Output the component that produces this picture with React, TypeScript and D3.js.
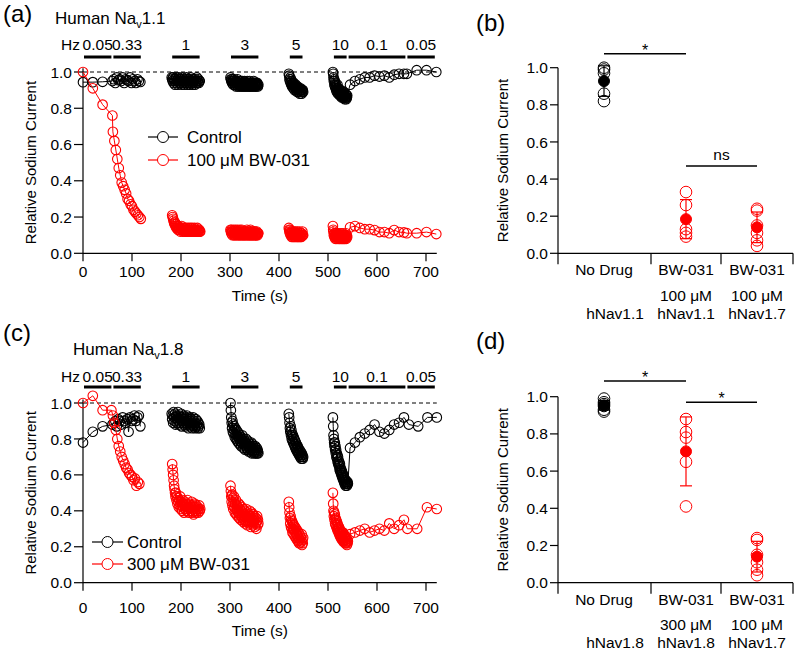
import React from "react";
import * as d3 from "d3";

const FONT = "'Liberation Sans', Arial, Helvetica, sans-serif";

// ---------- protocol ----------
const freqLabels = ["0.05", "0.33", "1", "3", "5", "10", "0.1", "0.05"];
const freqStart = [0, 60, 180, 300, 420, 510, 540, 660];
const freqEnd = [60, 120, 240, 360, 450, 540, 660, 720];

const timeTicks = [0, 100, 200, 300, 400, 500, 600, 700];
const currentTicks = [0, 0.2, 0.4, 0.6, 0.8, 1.0];

type Seg = { t0: number; dt: number; v: number[] };

// ---------- panel (a): hNav1.1 ----------
const nav11Control: Seg[] = [
  { t0: 0, dt: 20, v: [0.944, 0.944, 0.946] },
  { t0: 60, dt: 3, v: [0.95, 0.96, 0.94, 0.97, 0.955, 0.96, 0.95, 0.97, 0.94, 0.96, 0.955, 0.95, 0.97, 0.94, 0.96, 0.95, 0.94, 0.96, 0.95, 0.945] },
  { t0: 181, dt: 0.97, v: [
    0.97, 0.96, 0.95, 0.97, 0.94, 0.96, 0.95, 0.93, 0.96, 0.97,
    0.94, 0.95, 0.96, 0.93, 0.95, 0.97, 0.94, 0.96, 0.95, 0.94,
    0.96, 0.93, 0.95, 0.97, 0.94, 0.96, 0.95, 0.93, 0.94, 0.96,
    0.95, 0.97, 0.94, 0.93, 0.96, 0.95, 0.94, 0.96, 0.93, 0.95,
    0.97, 0.94, 0.95, 0.96, 0.93, 0.95, 0.94, 0.96, 0.95, 0.93,
    0.96, 0.94, 0.95, 0.97, 0.94, 0.95, 0.96, 0.94, 0.95, 0.95] },
  { t0: 301, dt: 0.8, v: [
    0.97, 0.96, 0.95, 0.96, 0.94, 0.95, 0.96, 0.93, 0.95, 0.94,
    0.96, 0.93, 0.95, 0.94, 0.92, 0.95, 0.93, 0.94, 0.96, 0.92,
    0.94, 0.93, 0.95, 0.92, 0.94, 0.93, 0.95, 0.92, 0.93, 0.94,
    0.92, 0.95, 0.93, 0.94, 0.92, 0.93, 0.95, 0.92, 0.94, 0.93,
    0.92, 0.94, 0.93, 0.95, 0.92, 0.93, 0.94, 0.92, 0.93, 0.95,
    0.92, 0.94, 0.93, 0.92, 0.94, 0.93, 0.92, 0.94, 0.93, 0.95,
    0.92, 0.93, 0.94, 0.92, 0.93, 0.94, 0.92, 0.93, 0.94, 0.93,
    0.92, 0.93] },
  { t0: 420, dt: 0.75, v: [
    0.99, 0.98, 0.96, 0.95, 0.97, 0.94, 0.96, 0.93, 0.95, 0.92,
    0.94, 0.93, 0.91, 0.94, 0.92, 0.93, 0.9, 0.92, 0.91, 0.93,
    0.9, 0.92, 0.91, 0.89, 0.92, 0.9, 0.91, 0.89, 0.91, 0.9,
    0.88, 0.9, 0.91, 0.89, 0.9, 0.88, 0.9, 0.89, 0.9, 0.89] },
  { t0: 510, dt: 0.62, v: [
    1.0, 0.99, 0.97, 0.95, 0.96, 0.93, 0.95, 0.92, 0.94, 0.91,
    0.93, 0.9, 0.92, 0.89, 0.91, 0.93, 0.9, 0.88, 0.91, 0.89,
    0.9, 0.88, 0.9, 0.87, 0.89, 0.88, 0.9, 0.87, 0.88, 0.86,
    0.89, 0.87, 0.88, 0.86, 0.87, 0.89, 0.86, 0.88, 0.87, 0.85,
    0.87, 0.86, 0.88, 0.86, 0.85, 0.87, 0.86, 0.87] },
  { t0: 545, dt: 10, v: [0.93, 0.95, 0.96, 0.97, 0.97, 0.98, 0.975, 0.98, 0.97, 0.985, 0.99, 0.99] },
  { t0: 661, dt: 20, v: [0.99, 1.01, 1.01, 1.0] },
];

const nav11Drug: Seg[] = [
  { t0: 0, dt: 20, v: [1.0, 0.91, 0.82, 0.76] },
  { t0: 61, dt: 3, v: [0.67, 0.62, 0.57, 0.52, 0.47, 0.43, 0.39, 0.37, 0.35, 0.33, 0.3, 0.29, 0.27, 0.26, 0.24, 0.23, 0.22, 0.21, 0.2, 0.19] },
  { t0: 182, dt: 0.97, v: [
    0.21, 0.2, 0.19, 0.18, 0.17, 0.16, 0.17, 0.15, 0.16, 0.14,
    0.15, 0.14, 0.13, 0.15, 0.14, 0.13, 0.14, 0.12, 0.14, 0.13,
    0.15, 0.13, 0.12, 0.14, 0.13, 0.12, 0.14, 0.13, 0.12, 0.13,
    0.14, 0.12, 0.13, 0.12, 0.14, 0.13, 0.12, 0.13, 0.14, 0.12,
    0.13, 0.12, 0.14, 0.13, 0.12, 0.13, 0.12, 0.14, 0.12, 0.13,
    0.12, 0.13, 0.12, 0.14, 0.12, 0.13, 0.12, 0.13, 0.12, 0.12] },
  { t0: 301, dt: 0.8, v: [
    0.13, 0.12, 0.11, 0.13, 0.12, 0.1, 0.12, 0.11, 0.13, 0.1,
    0.12, 0.11, 0.1, 0.13, 0.11, 0.12, 0.1, 0.11, 0.13, 0.12,
    0.1, 0.11, 0.12, 0.1, 0.13, 0.11, 0.1, 0.12, 0.11, 0.13,
    0.1, 0.12, 0.11, 0.1, 0.12, 0.11, 0.1, 0.12, 0.11, 0.1,
    0.12, 0.11, 0.13, 0.1, 0.11, 0.12, 0.1, 0.11, 0.12, 0.1,
    0.11, 0.13, 0.1, 0.12, 0.11, 0.1, 0.12, 0.11, 0.1, 0.11,
    0.12, 0.1, 0.11, 0.12, 0.1, 0.11, 0.1, 0.12, 0.11, 0.1,
    0.11, 0.11] },
  { t0: 420, dt: 0.75, v: [
    0.14, 0.13, 0.12, 0.11, 0.13, 0.1, 0.12, 0.11, 0.09, 0.12,
    0.1, 0.11, 0.09, 0.12, 0.1, 0.11, 0.09, 0.1, 0.12, 0.1,
    0.09, 0.11, 0.1, 0.12, 0.09, 0.1, 0.11, 0.09, 0.1, 0.12,
    0.1, 0.09, 0.11, 0.1, 0.09, 0.11, 0.1, 0.12, 0.1, 0.1] },
  { t0: 510, dt: 0.62, v: [
    0.15, 0.13, 0.12, 0.1, 0.11, 0.09, 0.11, 0.1, 0.08, 0.1,
    0.11, 0.09, 0.1, 0.08, 0.11, 0.09, 0.1, 0.08, 0.1, 0.09,
    0.11, 0.08, 0.1, 0.09, 0.08, 0.1, 0.09, 0.11, 0.08, 0.09,
    0.1, 0.08, 0.09, 0.11, 0.08, 0.1, 0.09, 0.08, 0.1, 0.09,
    0.08, 0.1, 0.09, 0.11, 0.08, 0.09, 0.1, 0.09] },
  { t0: 545, dt: 10, v: [0.143, 0.15, 0.14, 0.133, 0.133, 0.128, 0.117, 0.117, 0.111, 0.128, 0.117, 0.115] },
  { t0: 661, dt: 20, v: [0.111, 0.111, 0.117, 0.106] },
];

// ---------- panel (c): hNav1.8 ----------
const nav18Control: Seg[] = [
  { t0: 0, dt: 20, v: [0.78, 0.84, 0.87] },
  { t0: 60, dt: 3, v: [0.88, 0.89, 0.9, 0.87, 0.91, 0.9, 0.88, 0.92, 0.9, 0.89, 0.91, 0.84, 0.92, 0.9, 0.91, 0.93, 0.9, 0.92, 0.93, 0.87] },
  { t0: 181, dt: 0.97, v: [
    0.94, 0.91, 0.93, 0.89, 0.95, 0.92, 0.9, 0.94, 0.88, 0.92,
    0.93, 0.89, 0.91, 0.95, 0.9, 0.88, 0.93, 0.91, 0.89, 0.92,
    0.94, 0.87, 0.9, 0.92, 0.89, 0.93, 0.88, 0.91, 0.9, 0.87,
    0.92, 0.89, 0.93, 0.88, 0.9, 0.86, 0.91, 0.89, 0.92, 0.87,
    0.9, 0.88, 0.91, 0.86, 0.89, 0.92, 0.87, 0.9, 0.88, 0.86,
    0.89, 0.91, 0.87, 0.88, 0.9, 0.86, 0.89, 0.87, 0.88, 0.86] },
  { t0: 301, dt: 0.8, v: [
    1.0, 0.96, 0.92, 0.89, 0.86, 0.9, 0.84, 0.88, 0.83, 0.87,
    0.85, 0.81, 0.86, 0.83, 0.8, 0.85, 0.82, 0.79, 0.84, 0.81,
    0.78, 0.83, 0.8, 0.77, 0.82, 0.79, 0.81, 0.76, 0.8, 0.78,
    0.82, 0.77, 0.79, 0.75, 0.8, 0.77, 0.79, 0.74, 0.78, 0.76,
    0.8, 0.75, 0.77, 0.74, 0.79, 0.76, 0.73, 0.78, 0.75, 0.77,
    0.73, 0.76, 0.74, 0.78, 0.72, 0.75, 0.77, 0.73, 0.76, 0.74,
    0.72, 0.75, 0.73, 0.76, 0.72, 0.74, 0.73, 0.75, 0.72, 0.74,
    0.73, 0.72] },
  { t0: 420, dt: 0.75, v: [
    0.94, 0.92, 0.89, 0.86, 0.84, 0.87, 0.82, 0.85, 0.8, 0.83,
    0.79, 0.82, 0.78, 0.81, 0.77, 0.8, 0.76, 0.79, 0.75, 0.78,
    0.74, 0.77, 0.75, 0.73, 0.76, 0.72, 0.75, 0.73, 0.71, 0.74,
    0.72, 0.7, 0.73, 0.71, 0.69, 0.72, 0.7, 0.71, 0.69, 0.7] },
  { t0: 510, dt: 0.65, v: [
    0.92, 0.87, 0.82, 0.8, 0.78, 0.76, 0.78, 0.74, 0.76, 0.72,
    0.74, 0.7, 0.72, 0.69, 0.71, 0.67, 0.7, 0.66, 0.68, 0.65,
    0.67, 0.63, 0.66, 0.62, 0.64, 0.61, 0.63, 0.6, 0.62, 0.59,
    0.61, 0.58, 0.6, 0.57, 0.59, 0.56, 0.58, 0.55, 0.57, 0.56,
    0.54, 0.57, 0.55, 0.56, 0.54, 0.55, 0.56, 0.55] },
  { t0: 545, dt: 10, v: [0.75, 0.78, 0.81, 0.83, 0.85, 0.88, 0.84, 0.83, 0.85, 0.88, 0.89, 0.92] },
  { t0: 665, dt: 19, v: [0.88, 0.87, 0.92, 0.92] },
];

const nav18Drug: Seg[] = [
  { t0: 0, dt: 20, v: [1.0, 1.04, 0.96] },
  { t0: 58, dt: 3, v: [0.96, 0.93, 0.89, 0.85, 0.8, 0.76, 0.73, 0.7, 0.68, 0.66, 0.64, 0.63, 0.61, 0.6, 0.59, 0.57, 0.58, 0.54, 0.56, 0.55] },
  { t0: 182, dt: 0.97, v: [
    0.66, 0.63, 0.6, 0.57, 0.54, 0.52, 0.5, 0.48, 0.5, 0.46,
    0.48, 0.44, 0.47, 0.45, 0.42, 0.46, 0.43, 0.48, 0.41, 0.45,
    0.43, 0.4, 0.46, 0.42, 0.44, 0.39, 0.43, 0.45, 0.41, 0.44,
    0.4, 0.43, 0.46, 0.41, 0.42, 0.39, 0.44, 0.41, 0.43, 0.4,
    0.42, 0.45, 0.39, 0.43, 0.41, 0.38, 0.42, 0.44, 0.4, 0.42,
    0.39, 0.43, 0.41, 0.4, 0.42, 0.39, 0.41, 0.43, 0.4, 0.41] },
  { t0: 301, dt: 0.8, v: [
    0.54, 0.51, 0.48, 0.45, 0.49, 0.43, 0.47, 0.41, 0.45, 0.48,
    0.42, 0.39, 0.44, 0.41, 0.46, 0.38, 0.43, 0.4, 0.37, 0.42,
    0.39, 0.44, 0.36, 0.41, 0.38, 0.43, 0.35, 0.4, 0.37, 0.42,
    0.36, 0.39, 0.34, 0.41, 0.37, 0.35, 0.4, 0.33, 0.38, 0.36,
    0.41, 0.34, 0.37, 0.32, 0.39, 0.35, 0.38, 0.33, 0.36, 0.4,
    0.34, 0.37, 0.31, 0.36, 0.39, 0.33, 0.35, 0.38, 0.32, 0.36,
    0.34, 0.37, 0.31, 0.35, 0.33, 0.36, 0.3, 0.34, 0.37, 0.32,
    0.35, 0.33] },
  { t0: 420, dt: 0.75, v: [
    0.45, 0.42, 0.39, 0.36, 0.33, 0.37, 0.31, 0.35, 0.3, 0.34,
    0.28, 0.33, 0.3, 0.27, 0.32, 0.29, 0.26, 0.31, 0.28, 0.25,
    0.3, 0.27, 0.24, 0.29, 0.26, 0.23, 0.28, 0.25, 0.22, 0.27,
    0.24, 0.26, 0.22, 0.25, 0.23, 0.27, 0.21, 0.24, 0.22, 0.25] },
  { t0: 510, dt: 0.65, v: [
    0.5, 0.44, 0.4, 0.37, 0.39, 0.35, 0.38, 0.33, 0.36, 0.32,
    0.35, 0.31, 0.34, 0.3, 0.33, 0.29, 0.32, 0.3, 0.28, 0.31,
    0.27, 0.3, 0.26, 0.29, 0.27, 0.25, 0.28, 0.26, 0.24, 0.27,
    0.25, 0.28, 0.23, 0.26, 0.24, 0.27, 0.23, 0.25, 0.22, 0.26,
    0.24, 0.22, 0.25, 0.23, 0.21, 0.24, 0.22, 0.23] },
  { t0: 545, dt: 10, v: [0.27, 0.28, 0.29, 0.3, 0.28, 0.29, 0.3, 0.29, 0.33, 0.3, 0.32, 0.35] },
  { t0: 662, dt: 20, v: [0.3, 0.3, 0.42, 0.41] },
];

// ---------- panels (b) & (d): summary ----------
const catLine1B = ["No Drug", "BW-031", "BW-031"];
const catLine2B = ["", "100 \u03bcM", "100 \u03bcM"];
const catLine3B = ["hNav1.1", "hNav1.1", "hNav1.7"];
const pointsB = [
  [1.0, 0.99, 0.97, 0.86, 0.82],
  [0.33, 0.26, 0.13, 0.11, 0.09],
  [0.24, 0.23, 0.15, 0.11, 0.07, 0.04],
];
const sigFromB = [0, 1];
const sigToB = [1, 2];
const sigLabelB = ["*", "ns"];
const sigLevelB = [1.075, 0.47];

const catLine1D = ["No Drug", "BW-031", "BW-031"];
const catLine2D = ["", "300 \u03bcM", "100 \u03bcM"];
const catLine3D = ["hNav1.8", "hNav1.8", "hNav1.7"];
const pointsD = [
  [0.99, 0.97, 0.96, 0.95, 0.93, 0.92],
  [0.88, 0.81, 0.78, 0.65, 0.41],
  [0.24, 0.23, 0.15, 0.11, 0.07, 0.04],
];
const sigFromD = [0, 1];
const sigToD = [1, 2];
const sigLabelD = ["*", "*"];
const sigLevelD = [1.085, 0.97];

const groupColors = ["#000000", "#ff0000", "#ff0000"];

// ---------- helpers ----------
function flatten(segs: Seg[]) {
  return segs.flatMap((s) => s.v.map((v, i) => ({ t: s.t0 + i * s.dt, v })));
}
function runs(segs: Seg[]) {
  const pts = flatten(segs);
  const out: { t: number; v: number }[][] = [];
  let cur: { t: number; v: number }[] = [];
  pts.forEach((p, i) => {
    if (i > 0 && p.t - pts[i - 1].t > 25) {
      out.push(cur);
      cur = [];
    }
    cur.push(p);
  });
  if (cur.length) out.push(cur);
  return out;
}

type TraceCfg = {
  letter: string;
  letterX: number;
  letterY: number;
  titleX: number;
  titleY: number;
  sub: string;
  yRange: [number, number];
  hzY: number;
  barY: number;
  tickLabelDy: number;
  xTitleY: number;
  control: Seg[];
  drug: Seg[];
  legendX1: number;
  legendX2: number;
  legendTextX: number;
  legendY1: number;
  legendY2: number;
  drugLabel: string;
};

function TracePanel({ c }: { c: TraceCfg }) {
  const x = d3.scaleLinear().domain([0, 700]).range([83, 426]);
  const y = d3.scaleLinear().domain([0, 1]).range(c.yRange);
  const line = d3
    .line<{ t: number; v: number }>()
    .x((d) => x(d.t))
    .y((d) => y(d.v));
  const axisEnd = x(722);
  const y0 = y(0);
  const r = 4.8;
  const series = [
    { segs: c.control, color: "#000000" },
    { segs: c.drug, color: "#ff0000" },
  ];
  return (
    <g>
      <text x={c.letterX} y={c.letterY} fontSize={24} fontFamily={FONT}>
        {c.letter}
      </text>
      <text x={c.titleX} y={c.titleY} fontSize={17} fontFamily={FONT}>
        Human Na
        <tspan fontSize={11} dy={4}>
          v
        </tspan>
        <tspan dy={-4}>{c.sub}</tspan>
      </text>
      <text x={x(0) - 3} y={c.hzY} fontSize={15.5} fontFamily={FONT} textAnchor="end">
        Hz
      </text>
      {freqLabels.map((f, i) => (
        <g key={"f" + i}>
          <text
            x={x((freqStart[i] + freqEnd[i]) / 2)}
            y={c.hzY}
            fontSize={15.5}
            fontFamily={FONT}
            textAnchor="middle"
          >
            {f}
          </text>
          <line
            x1={x(freqStart[i]) + 1}
            x2={x(freqEnd[i]) - 1}
            y1={c.barY}
            y2={c.barY}
            stroke="#000"
            strokeWidth={3}
          />
        </g>
      ))}
      {/* dashed reference */}
      <line x1={x(0)} x2={axisEnd} y1={y(1)} y2={y(1)} stroke="#000" strokeWidth={1} strokeDasharray="4,3" />
      {/* axes */}
      <line x1={x(0)} x2={x(0)} y1={y0} y2={y(1.02)} stroke="#000" strokeWidth={1.2} />
      <line x1={x(0)} x2={axisEnd} y1={y0} y2={y0} stroke="#000" strokeWidth={1.2} />
      {currentTicks.map((t) => (
        <g key={"yt" + t}>
          <line x1={x(0) - 9} x2={x(0)} y1={y(t)} y2={y(t)} stroke="#000" strokeWidth={1.2} />
          <text x={x(0) - 11} y={y(t)} dy="0.36em" fontSize={15.5} fontFamily={FONT} textAnchor="end">
            {t.toFixed(1)}
          </text>
        </g>
      ))}
      {timeTicks.map((t) => (
        <g key={"xt" + t}>
          <line x1={x(t)} x2={x(t)} y1={y0} y2={y0 + 8} stroke="#000" strokeWidth={1.2} />
          <text x={x(t)} y={y0 + c.tickLabelDy} fontSize={15.5} fontFamily={FONT} textAnchor="middle">
            {t}
          </text>
        </g>
      ))}
      <text x={(x(0) + axisEnd) / 2} y={c.xTitleY} fontSize={15.5} fontFamily={FONT} textAnchor="middle">
        Time (s)
      </text>
      <text
        transform={`translate(36,${(y(0) + y(1)) / 2}) rotate(-90)`}
        fontSize={15}
        fontFamily={FONT}
        textAnchor="middle"
      >
        Relative Sodium Current
      </text>
      {/* data */}
      {series.map((s, si) => (
        <g key={"s" + si}>
          {runs(s.segs).map((run, ri) => (
            <path key={ri} d={line(run) || ""} fill="none" stroke={s.color} strokeWidth={1} />
          ))}
          {flatten(s.segs).map((p, pi) => (
            <circle
              key={pi}
              cx={x(p.t)}
              cy={y(p.v)}
              r={r}
              fill="none"
              stroke={s.color}
              strokeWidth={1.1}
            />
          ))}
        </g>
      ))}
      {/* legend */}
      {[
        { label: "Control", color: "#000", yy: c.legendY1 },
        { label: c.drugLabel, color: "#ff0000", yy: c.legendY2 },
      ].map((l, i) => (
        <g key={"lg" + i}>
          <line x1={c.legendX1} x2={c.legendX2} y1={l.yy} y2={l.yy} stroke={l.color} strokeWidth={1.2} />
          <circle cx={(c.legendX1 + c.legendX2) / 2} cy={l.yy} r={5.5} fill="#fff" stroke={l.color} strokeWidth={1} />
          <text x={c.legendTextX} y={l.yy} dy="0.36em" fontSize={17} fontFamily={FONT}>
            {l.label}
          </text>
        </g>
      ))}
    </g>
  );
}

type SumCfg = {
  letter: string;
  letterY: number;
  yRange: [number, number];
  line1: string[];
  line2: string[];
  line3: string[];
  points: number[][];
  sigFrom: number[];
  sigTo: number[];
  sigLabel: string[];
  sigLevel: number[];
};

function SummaryPanel({ c }: { c: SumCfg }) {
  const idx = ["0", "1", "2"];
  const x = d3.scaleOrdinal<string, number>().domain(idx).range([604, 686, 757]);
  const bounds = [558, 651, 721, 793];
  const y = d3.scaleLinear().domain([0, 1]).range(c.yRange);
  const y0 = y(0);
  const ax = bounds[0];
  return (
    <g>
      <text x={476} y={c.letterY} fontSize={24} fontFamily={FONT}>
        {c.letter}
      </text>
      <text
        transform={`translate(508,${(y(0) + y(1)) / 2}) rotate(-90)`}
        fontSize={15}
        fontFamily={FONT}
        textAnchor="middle"
      >
        Relative Sodium Current
      </text>
      <line x1={ax} x2={ax} y1={y(1)} y2={y0} stroke="#000" strokeWidth={1.2} />
      <line x1={ax} x2={bounds[3]} y1={y0} y2={y0} stroke="#000" strokeWidth={1.2} />
      {bounds.map((b, i) => (
        <line key={"b" + i} x1={b} x2={b} y1={y0} y2={y0 + 11} stroke="#000" strokeWidth={1.2} />
      ))}
      {currentTicks.map((t) => (
        <g key={"yt" + t}>
          <line x1={ax - 8} x2={ax} y1={y(t)} y2={y(t)} stroke="#000" strokeWidth={1.2} />
          <text x={ax - 10} y={y(t)} dy="0.36em" fontSize={15.5} fontFamily={FONT} textAnchor="end">
            {t.toFixed(1)}
          </text>
        </g>
      ))}
      {idx.map((k, i) => (
        <g key={"c" + k}>
          <text x={x(k)} y={y0 + 22} fontSize={15.5} fontFamily={FONT} textAnchor="middle">
            {c.line1[i]}
          </text>
          <text x={x(k)} y={y0 + 47.5} fontSize={15.5} fontFamily={FONT} textAnchor="middle">
            {c.line2[i]}
          </text>
          <text x={x(k) + (i === 0 ? 11 : 0)} y={y0 + 65.5} fontSize={15.5} fontFamily={FONT} textAnchor="middle">
            {c.line3[i]}
          </text>
        </g>
      ))}
      {c.points.map((vals, i) => {
        const m = d3.mean(vals) as number;
        const sd = d3.deviation(vals) as number;
        const col = groupColors[i];
        const cx = x(idx[i]);
        return (
          <g key={"p" + i}>
            {vals.map((v, j) => (
              <circle key={j} cx={cx} cy={y(v)} r={5.8} fill="none" stroke={col} strokeWidth={1} />
            ))}
            <line x1={cx} x2={cx} y1={y(m - sd)} y2={y(m + sd)} stroke={col} strokeWidth={1.2} />
            <line x1={cx - 6} x2={cx + 6} y1={y(m - sd)} y2={y(m - sd)} stroke={col} strokeWidth={1.2} />
            <line x1={cx - 6} x2={cx + 6} y1={y(m + sd)} y2={y(m + sd)} stroke={col} strokeWidth={1.2} />
            <circle cx={cx} cy={y(m)} r={5.5} fill={col} stroke={col} strokeWidth={1} />
          </g>
        );
      })}
      {c.sigLabel.map((lab, i) => {
        const x1 = x(idx[c.sigFrom[i]]);
        const x2 = x(idx[c.sigTo[i]]);
        const yy = y(c.sigLevel[i]);
        return (
          <g key={"sg" + i}>
            <line x1={x1} x2={x2} y1={yy} y2={yy} stroke="#000" strokeWidth={1.5} />
            <text
              x={(x1 + x2) / 2}
              y={lab === "*" ? yy + 2 : yy - 6}
              fontSize={lab === "*" ? 16 : 15.5}
              fontFamily={FONT}
              textAnchor="middle"
            >
              {lab}
            </text>
          </g>
        );
      })}
    </g>
  );
}

const cfgA: TraceCfg = {
  letter: "(a)",
  letterX: 3,
  letterY: 22,
  titleX: 55,
  titleY: 24,
  sub: "1.1",
  yRange: [253.3, 72],
  hzY: 50,
  barY: 57,
  tickLabelDy: 23.5,
  xTitleY: 301,
  control: nav11Control,
  drug: nav11Drug,
  legendX1: 148,
  legendX2: 178,
  legendTextX: 187,
  legendY1: 137,
  legendY2: 160,
  drugLabel: "100 \u03bcM BW-031",
};

const cfgC: TraceCfg = {
  letter: "(c)",
  letterX: 3,
  letterY: 341,
  titleX: 73,
  titleY: 355,
  sub: "1.8",
  yRange: [582.7, 403],
  hzY: 382,
  barY: 387,
  tickLabelDy: 30.5,
  xTitleY: 636,
  control: nav18Control,
  drug: nav18Drug,
  legendX1: 92,
  legendX2: 123,
  legendTextX: 127,
  legendY1: 542,
  legendY2: 564,
  drugLabel: "300 \u03bcM BW-031",
};

const cfgB: SumCfg = {
  letter: "(b)",
  letterY: 31,
  yRange: [253.3, 67.7],
  line1: catLine1B,
  line2: catLine2B,
  line3: catLine3B,
  points: pointsB,
  sigFrom: sigFromB,
  sigTo: sigToB,
  sigLabel: sigLabelB,
  sigLevel: sigLevelB,
};

const cfgD: SumCfg = {
  letter: "(d)",
  letterY: 349,
  yRange: [582.7, 396.7],
  line1: catLine1D,
  line2: catLine2D,
  line3: catLine3D,
  points: pointsD,
  sigFrom: sigFromD,
  sigTo: sigToD,
  sigLabel: sigLabelD,
  sigLevel: sigLevelD,
};

export default function App() {
  return (
    <svg
      width={795}
      height={653}
      viewBox="0 0 795 653"
      style={{ position: "absolute", left: 0, top: 0, background: "#fff" }}
    >
      <rect x={0} y={0} width={795} height={653} fill="#fff" />
      <TracePanel c={cfgA} />
      <TracePanel c={cfgC} />
      <SummaryPanel c={cfgB} />
      <SummaryPanel c={cfgD} />
    </svg>
  );
}
